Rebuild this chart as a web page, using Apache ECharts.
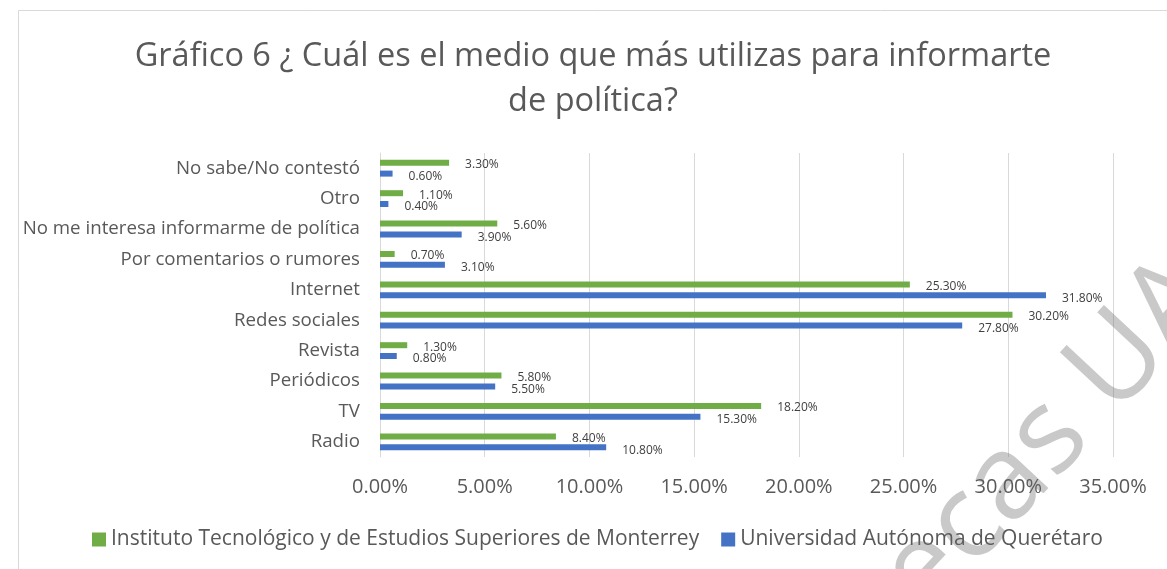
<!DOCTYPE html>
<html>
<head>
<meta charset="utf-8">
<script src="https://cdn.jsdelivr.net/npm/echarts@6/dist/echarts.min.js"></script>
<style>
  html, body { margin: 0; padding: 0; background: #fff; }
  #main { width: 1167px; height: 569px; }
</style>
</head>
<body>
<div id="main"></div>
<script>
// categorías (de abajo hacia arriba)
var categories = ['Radio', 'TV', 'Periódicos', 'Revista', 'Redes sociales', 'Internet',
  'Por comentarios o rumores', 'No me interesa informarme de política', 'Otro', 'No sabe/No contestó'];
var seriesNames = ['Instituto Tecnológico y de Estudios Superiores de Monterrey', 'Universidad Autónoma de Querétaro'];
var itesm = [8.4, 18.2, 5.8, 1.3, 30.2, 25.3, 0.7, 5.6, 1.1, 3.3];
var uaq = [10.8, 15.3, 5.5, 0.8, 27.8, 31.8, 3.1, 3.9, 0.4, 0.6];
var xTicks = [0, 5, 10, 15, 20, 25, 30, 35];

(function () {
  var myChart = echarts.init(document.getElementById('main'));
  var font = '"Open Sans", "Noto Sans", sans-serif';
  // etiqueta de datos
  function pct(p) { return p.value.toFixed(2) + '%'; }

  // marca de agua: colocar la letra "a" de "tecas" en su sitio
  var wmText = 'Bibliotecas UAQ';
  var wmFont = '118px "Open Sans", sans-serif';
  var wmAngle = 47 * Math.PI / 180;
  var ctx = document.createElement('canvas').getContext('2d');
  ctx.font = wmFont;
  var along = ctx.measureText('Bibliote' + 'c').width + ctx.measureText('a').width / 2;
  var wmX = 1008 - along * Math.cos(wmAngle);
  var wmY = 482 + along * Math.sin(wmAngle);

  var option = {
    color: ['#70ad47', '#4472c4'],
    textStyle: { fontFamily: font },
    title: {
      text: 'Gráfico 6 ¿ Cuál es el medio que más utilizas para informarte\nde política?',
      left: 588,
      top: 29,
      textAlign: 'center',
      textStyle: {
        color: '#595959',
        fontSize: 32.5,
        fontWeight: 'normal',
        lineHeight: 45,
        fontFamily: font
      }
    },
    legend: {
      bottom: 14,
      left: 87,
      itemWidth: 14,
      itemHeight: 14,
      itemGap: 22,
      icon: 'rect',
      textStyle: { color: '#595959', fontSize: 21, fontFamily: font },
      data: seriesNames
    },
    grid: {
      left: 380,
      right: 54,
      top: 153,
      bottom: 112
    },
    xAxis: {
      type: 'value',
      min: xTicks[0],
      max: xTicks[xTicks.length - 1],
      interval: 5,
      axisLine: { show: false },
      axisTick: { show: false },
      splitLine: { lineStyle: { color: '#d9d9d9', width: 1 } },
      axisLabel: {
        color: '#595959',
        fontSize: 20,
        margin: 20,
        formatter: function (v) { return v.toFixed(2) + '%'; }
      }
    },
    yAxis: {
      type: 'category',
      data: categories,
      axisLine: { lineStyle: { color: '#d9d9d9' } },
      axisTick: { show: false },
      axisLabel: { color: '#595959', fontSize: 18.7, margin: 20 }
    },
    series: [
      {
        name: seriesNames[0],
        type: 'bar',
        data: itesm,
        barWidth: 6,
        barGap: '80%',
        label: {
          show: true,
          position: 'right',
          distance: 16,
          offset: [0, 2],
          color: '#404040',
          fontSize: 12,
          formatter: pct
        }
      },
      {
        name: seriesNames[1],
        type: 'bar',
        data: uaq,
        barWidth: 6,
        barGap: '80%',
        label: {
          show: true,
          position: 'right',
          distance: 16,
          offset: [0, 3],
          color: '#404040',
          fontSize: 12,
          formatter: pct
        }
      }
    ],
    graphic: [
      {
        type: 'rect',
        shape: { x: 18.5, y: 10.5, width: 1200, height: 600 },
        style: { fill: 'none', stroke: '#d9d9d9', lineWidth: 1 },
        silent: true
      },
      {
        type: 'text',
        x: wmX,
        y: wmY,
        rotation: wmAngle,
        z: 100,
        silent: true,
        style: {
          text: wmText,
          font: wmFont,
          fill: 'rgba(100,100,100,0.35)',
          textAlign: 'left',
          verticalAlign: 'middle'
        }
      }
    ]
  };
  myChart.setOption(option);
  window.addEventListener('resize', function () {
    myChart.resize();
  });
})();
</script>
</body>
</html>
